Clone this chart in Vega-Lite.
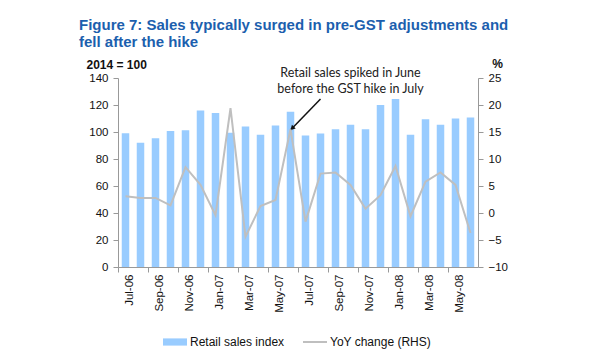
{
  "$schema": "https://vega.github.io/schema/vega-lite/v6.json",
  "autosize": "none",
  "width": 360,
  "height": 189,
  "padding": {"left": 118, "top": 78, "right": 122, "bottom": 93},
  "background": "white",
  "config": {
    "view": {"stroke": null},
    "font": "Liberation Sans",
    "axis": {"labelFont": "Liberation Sans", "labelFontSize": 11.5, "labelColor": "#111", "domainColor": "#999", "tickColor": "#999", "tickSize": 5, "grid": false, "labelOverlap": false},
    "legend": {"labelFontSize": 12, "labelColor": "#111", "labelOffset": 2}
  },
  "title": {
    "text": ["Figure 7:  Sales typically surged in pre-GST adjustments and", "fell after the hike"],
    "anchor": "start",
    "frame": "group",
    "dx": -39,
    "font": "Liberation Sans",
    "fontSize": 15,
    "fontWeight": "bold",
    "color": "#1c5fae",
    "lineHeight": 17,
    "offset": 7
  },
  "datasets": {
    "sales": [
      {"month": "Jul-06", "idx": 99, "yoy": 3.1},
      {"month": "Aug-06", "idx": 92, "yoy": 2.8},
      {"month": "Sep-06", "idx": 95.4, "yoy": 2.8},
      {"month": "Oct-06", "idx": 100.8, "yoy": 1.4},
      {"month": "Nov-06", "idx": 101.3, "yoy": 8.5},
      {"month": "Dec-06", "idx": 116, "yoy": 5.2},
      {"month": "Jan-07", "idx": 114, "yoy": -0.4},
      {"month": "Feb-07", "idx": 99.5, "yoy": 19.4},
      {"month": "Mar-07", "idx": 104, "yoy": -4.4},
      {"month": "Apr-07", "idx": 98, "yoy": 1.3},
      {"month": "May-07", "idx": 104.8, "yoy": 2.4},
      {"month": "Jun-07", "idx": 115, "yoy": 15.5},
      {"month": "Jul-07", "idx": 97.4, "yoy": -1.6},
      {"month": "Aug-07", "idx": 98.9, "yoy": 7.3},
      {"month": "Sep-07", "idx": 102, "yoy": 7.5},
      {"month": "Oct-07", "idx": 105.3, "yoy": 5.2},
      {"month": "Nov-07", "idx": 102, "yoy": 0.8},
      {"month": "Dec-07", "idx": 120, "yoy": 3.3},
      {"month": "Jan-08", "idx": 124.4, "yoy": 8.7},
      {"month": "Feb-08", "idx": 97.9, "yoy": -0.6},
      {"month": "Mar-08", "idx": 109.5, "yoy": 5.8},
      {"month": "Apr-08", "idx": 105.3, "yoy": 7.5},
      {"month": "May-08", "idx": 110, "yoy": 5.2},
      {"month": "Jun-08", "idx": 110.8, "yoy": -3.7}
    ],
    "note": [
      {"month": "Oct-07", "idx": 144, "label": "Retail sales spiked  in June\nbefore the GST hike in July"}
    ],
    "arrow": [
      {"month": "Jun-07", "month2": "Aug-07", "idx": 101.5, "idx2": 124.4}
    ]
  },
  "layer": [
    {
      "layer": [
        {
          "data": {"name": "sales"},
          "mark": {"type": "bar"},
          "encoding": {
            "x": {
              "field": "month", "type": "ordinal", "sort": null,
              "scale": {"paddingInner": 0.5, "paddingOuter": 0.25},
              "axis": {
                "title": null, "labelAngle": -90,
                "bandPosition": 0, "tickOffset": -3.75, "labelOffset": 7.5,
                "tickOpacity": {"condition": {"test": "indexof(['Jul','Sep','Nov','Jan','Mar','May'], slice(datum.value, 0, 3)) >= 0", "value": 1}, "value": 0},
                "labelExpr": "indexof(['Jul','Sep','Nov','Jan','Mar','May'], slice(datum.value, 0, 3)) >= 0 ? datum.value : ''",
                "labelPadding": 2
              }
            },
            "y": {
              "field": "idx", "type": "quantitative",
              "scale": {"domain": [0, 140], "nice": false},
              "axis": {"values": [0, 20, 40, 60, 80, 100, 120, 140], "tickCount": 8, "labelOverlap": false, "title": "2014 = 100", "titleAngle": 0, "titleAlign": "left", "titleBaseline": "alphabetic", "titleX": -32, "titleY": -10, "titleFontSize": 12, "titleFontWeight": "bold", "titleColor": "#111", "labelPadding": 5}
            },
            "color": {
              "datum": "Retail sales index", "type": "nominal",
              "scale": {"range": ["#99ccff"]},
              "legend": {"title": null, "orient": "none", "legendX": 44, "legendY": 251, "symbolType": "M-1,-0.3H1V0.3H-1Z", "symbolSize": 576, "symbolOpacity": 1}
            }
          }
        },
        {
          "data": {"name": "note"},
          "mark": {"type": "text", "font": "Lato", "fontSize": 12.5, "lineBreak": "\n", "lineHeight": 16, "align": "center", "baseline": "middle", "color": "#222"},
          "encoding": {
            "x": {"field": "month", "type": "ordinal", "sort": null},
            "y": {"field": "idx", "type": "quantitative", "axis": {"values": [0, 20, 40, 60, 80, 100, 120, 140], "tickCount": 8, "labelOverlap": false, "title": "2014 = 100", "titleAngle": 0, "titleAlign": "left", "titleBaseline": "alphabetic", "titleX": -32, "titleY": -10, "titleFontSize": 12, "titleFontWeight": "bold", "titleColor": "#111", "labelPadding": 5}},
            "text": {"field": "label"}
          }
        },
        {
          "data": {"name": "arrow"},
          "mark": {"type": "rule", "color": "#111", "strokeWidth": 1.5},
          "encoding": {
            "x": {"field": "month", "type": "ordinal", "sort": null},
            "x2": {"field": "month2"},
            "y": {"field": "idx", "type": "quantitative", "axis": {"values": [0, 20, 40, 60, 80, 100, 120, 140], "tickCount": 8, "labelOverlap": false, "title": "2014 = 100", "titleAngle": 0, "titleAlign": "left", "titleBaseline": "alphabetic", "titleX": -32, "titleY": -10, "titleFontSize": 12, "titleFontWeight": "bold", "titleColor": "#111", "labelPadding": 5}},
            "y2": {"field": "idx2"}
          }
        },
        {
          "data": {"name": "arrow"},
          "mark": {"type": "point", "shape": "M0,0L-0.55,1L0.55,1Z", "filled": true, "color": "#111", "size": 90, "angle": 224, "opacity": 1},
          "encoding": {
            "x": {"field": "month", "type": "ordinal", "sort": null},
            "y": {"field": "idx", "type": "quantitative", "axis": {"values": [0, 20, 40, 60, 80, 100, 120, 140], "tickCount": 8, "labelOverlap": false, "title": "2014 = 100", "titleAngle": 0, "titleAlign": "left", "titleBaseline": "alphabetic", "titleX": -32, "titleY": -10, "titleFontSize": 12, "titleFontWeight": "bold", "titleColor": "#111", "labelPadding": 5}}
          }
        }
      ]
    },
    {
      "data": {"name": "sales"},
      "mark": {"type": "line", "strokeWidth": 2},
      "encoding": {
        "x": {"field": "month", "type": "ordinal", "sort": null},
        "y": {
          "field": "yoy", "type": "quantitative",
          "scale": {"domain": [-10, 25], "nice": false},
          "axis": {"orient": "right", "values": [-10, -5, 0, 5, 10, 15, 20, 25], "title": "%", "titleAngle": 0, "titleAlign": "center", "titleBaseline": "alphabetic", "titleX": 19, "titleY": -11, "titleFontSize": 12, "titleFontWeight": "bold", "titleColor": "#111", "labelPadding": 5}
        },
        "stroke": {
          "datum": "YoY change (RHS)", "type": "nominal",
          "scale": {"range": ["#bfbfbf"]},
          "legend": {"title": null, "orient": "none", "legendX": 184, "legendY": 251, "symbolType": "stroke", "symbolSize": 576, "symbolStrokeWidth": 2}
        }
      }
    }
  ],
  "resolve": {"scale": {"y": "independent"}}
}
